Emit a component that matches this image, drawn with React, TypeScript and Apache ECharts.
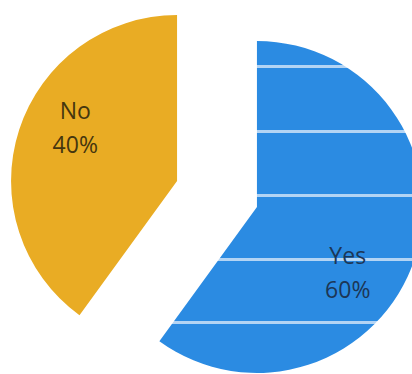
import React, { useEffect, useRef } from "react";
import * as echarts from "echarts";

const categories = ["Yes", "No"];
const values = [60, 40];
const sliceColors = ["#2b8be2", "#e9ac24"];
const labelColors = ["#1c3656", "#45360f"];
const labelShift = [
  [9, 38],
  [-20, -27],
];
// paper ruling lines visible through the blue slice (fractions of slice height)
const stripeStarts = [0.072, 0.267, 0.46, 0.653, 0.842];
const stripeWidth = 0.009;
const stripeColor = "#b3d4f4";

function stripedFill(base: string) {
  const stops: { offset: number; color: string }[] = [{ offset: 0, color: base }];
  stripeStarts.forEach((s) => {
    stops.push({ offset: s, color: base });
    stops.push({ offset: s, color: stripeColor });
    stops.push({ offset: s + stripeWidth, color: stripeColor });
    stops.push({ offset: s + stripeWidth, color: base });
  });
  stops.push({ offset: 1, color: base });
  return new echarts.graphic.LinearGradient(0, 0, 0, 1, stops);
}

export default function App() {
  const ref = useRef<HTMLDivElement>(null);
  useEffect(() => {
    document.body.style.margin = "0";
    const chart = echarts.init(ref.current!, undefined, { renderer: "svg" });
    chart.setOption({
      animation: false,
      backgroundColor: "#ffffff",
      series: [
        {
          type: "pie",
          center: [217, 194],
          radius: [0, 166],
          startAngle: 90,
          clockwise: true,
          selectedMode: "multiple",
          selectedOffset: 42,
          avoidLabelOverlap: false,
          silent: true,
          emphasis: { disabled: true },
          label: {
            show: true,
            position: "inside",
            formatter: "{b}\n{d}%",
            fontFamily: "Open Sans",
            fontSize: 23,
            lineHeight: 34,
          },
          labelLine: { show: false },
          labelLayout: (p: any) => ({
            dx: labelShift[p.dataIndex][0],
            dy: labelShift[p.dataIndex][1],
          }),
          data: categories.map((name, i) => ({
            name,
            value: values[i],
            selected: true,
            itemStyle: {
              color: i === 0 ? stripedFill(sliceColors[0]) : sliceColors[i],
              borderWidth: 0,
            },
            label: {
              color: labelColors[i],
            },
          })),
        },
      ],
    });
    return () => chart.dispose();
  }, []);
  return (
    <div
      ref={ref}
      style={{ position: "fixed", left: 0, top: 0, width: 412, height: 374 }}
    />
  );
}
